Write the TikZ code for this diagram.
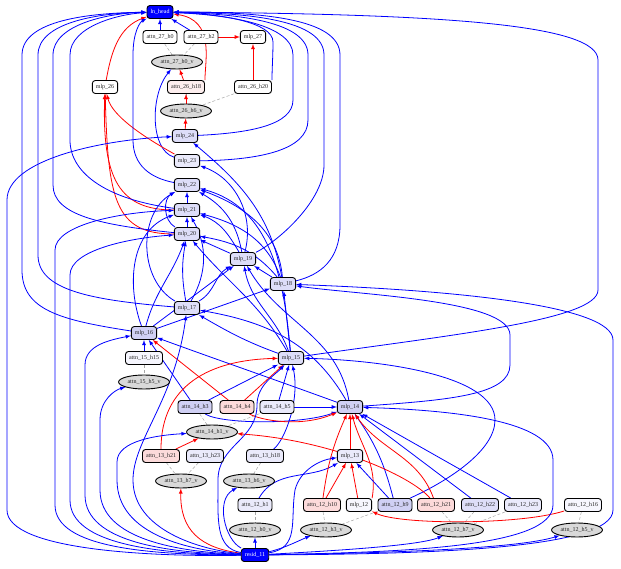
\documentclass[tikz,border=0pt]{standalone}
\usepackage{fontspec}
\setmainfont{Liberation Serif}
\usetikzlibrary{arrows,shapes.geometric}
\pgfdeclarelayer{background}
\pgfsetlayers{background,main}

\definecolor{lav1}{RGB}{208,208,244}
\definecolor{lav2}{RGB}{221,221,248}
\definecolor{lav3}{RGB}{234,234,251}
\definecolor{lav4}{RGB}{246,246,254}
\definecolor{pink1}{RGB}{252,218,218}
\definecolor{pink2}{RGB}{253,238,238}
\definecolor{vgray}{RGB}{217,217,217}

\begin{document}
\begin{tikzpicture}[x=1pt,y=1pt,>=latex,
  every node/.style={font=\fontsize{6}{7}\selectfont,text=black!85},
  box/.style={draw,rounded corners=3pt,line width=0.9pt,minimum height=13pt,inner xsep=3.5pt,inner ysep=1pt},
  ends/.style={box,fill=blue,text=white},
  vnode/.style={ellipse,draw,fill=vgray,line width=0.9pt,minimum height=14pt,inner xsep=1.5pt,inner ysep=0pt},
  bl/.style={->,blue,line width=0.8pt},
  rd/.style={->,red,line width=0.8pt},
  vl/.style={densely dashed,black!35,line width=0.5pt}]
\useasboundingbox (0,0) rectangle (621,-569);

% layer 27 and the head
\node[ends] (head) at (160,-12) {ln\_head};
\node[box,fill=white] (a27h0) at (160,-37) {attn\_27\_h0};
\node[box,fill=white] (a27h2) at (201,-37) {attn\_27\_h2};
\node[box,fill=white] (m27) at (253,-37) {mlp\_27};
\node[vnode] (v27h0) at (177,-62) {attn\_27\_h0\_v};

% layer 26
\node[box,fill=white] (m26) at (105,-87) {mlp\_26};
\node[box,fill=pink2] (a26h18) at (186,-87) {attn\_26\_h18};
\node[box,fill=white] (a26h20) at (253,-87) {attn\_26\_h20};
\node[vnode] (v26h6) at (186,-111) {attn\_26\_h6\_v};

% mlps 24 .. 15
\node[box,fill=lav2] (m24) at (185,-136) {mlp\_24};
\node[box,fill=lav3] (m23) at (187,-161) {mlp\_23};
\node[box,fill=lav2] (m22) at (187,-185) {mlp\_22};
\node[box,fill=lav2] (m21) at (187,-210) {mlp\_21};
\node[box,fill=lav2] (m20) at (187,-234) {mlp\_20};
\node[box,fill=lav2] (m19) at (243,-259) {mlp\_19};
\node[box,fill=lav2] (m18) at (283,-284) {mlp\_18};
\node[box,fill=lav2] (m17) at (187,-308) {mlp\_17};
\node[box,fill=lav1] (m16) at (144,-333) {mlp\_16};
\node[box,fill=lav4] (a15h15) at (144,-358) {attn\_15\_h15};
\node[vnode] (v15h5) at (144,-382) {attn\_15\_h5\_v};
\node[box,fill=lav2] (m15) at (291,-358) {mlp\_15};

% layer 14
\node[box,fill=lav1] (a14h3) at (195,-407) {attn\_14\_h3};
\node[box,fill=pink1] (a14h4) at (237,-407) {attn\_14\_h4};
\node[box,fill=lav3] (a14h5) at (277,-407) {attn\_14\_h5};
\node[box,fill=lav1] (m14) at (350,-407) {mlp\_14};
\node[vnode] (v14h1) at (212,-432) {attn\_14\_h1\_v};

% layer 13
\node[box,fill=pink1] (a13h21) at (161,-456) {attn\_13\_h21};
\node[box,fill=lav3] (a13h23) at (205,-456) {attn\_13\_h23};
\node[box,fill=lav3] (a13h18) at (265,-456) {attn\_13\_h18};
\node[box,fill=lav3] (m13) at (350,-456) {mlp\_13};
\node[vnode] (v13h7) at (181,-481) {attn\_13\_h7\_v};
\node[vnode] (v13h6) at (249,-481) {attn\_13\_h6\_v};

% layer 12
\node[box,fill=lav3] (a12h1) at (255,-505) {attn\_12\_h1};
\node[box,fill=pink1] (a12h10) at (322,-505) {attn\_12\_h10};
\node[box,fill=lav4] (m12) at (359,-505) {mlp\_12};
\node[box,fill=lav1] (a12h9) at (395,-505) {attn\_12\_h9};
\node[box,fill=pink1] (a12h21) at (436,-505) {attn\_12\_h21};
\node[box,fill=lav2] (a12h22) at (480,-505) {attn\_12\_h22};
\node[box,fill=lav3] (a12h23) at (523,-505) {attn\_12\_h23};
\node[box,fill=lav4] (a12h16) at (583,-505) {attn\_12\_h16};
\node[vnode] (v12h0) at (255,-530) {attn\_12\_h0\_v};
\node[vnode] (v12h3) at (326,-530) {attn\_12\_h3\_v};
\node[vnode] (v12h7) at (458,-530) {attn\_12\_h7\_v};
\node[vnode] (v12h5) at (577,-530) {attn\_12\_h5\_v};
\node[ends] (resid) at (255,-555) {resid\_11};

\begin{pgfonlayer}{background}
% heads and their value inputs
\draw[vl] (a27h0) -- (v27h0);
\draw[vl] (a27h2) -- (v27h0);
\draw[vl] (a26h18) -- (v26h6);
\draw[vl] (a26h20) -- (v26h6);
\draw[vl] (a15h15) -- (v15h5);
\draw[vl] (a14h3) -- (v14h1);
\draw[vl] (a14h5) -- (v14h1);
\draw[vl] (a13h21) -- (v13h7);
\draw[vl] (a13h23) -- (v13h7);
\draw[vl] (a13h18) -- (v13h6);
\draw[vl] (a12h1) -- (v12h0);
\draw[vl] (a12h10) -- (v12h3);
\draw[vl] (a12h9) -- (v12h3);
\draw[vl] (a12h21) -- (v12h7);
\draw[vl] (a12h22) -- (v12h7);
\draw[vl] (a12h23) -- (v12h7);
\draw[vl] (a12h16) -- (v12h5);

% top
\draw[bl] (a27h0) -- (head);
\draw[bl] (a27h2) -- (head);
\draw[rd] (a27h2) -- (m27);
\draw[rd] (a26h20) -- (m27);
\draw[rd] (a26h18) -- (v27h0);
\draw[rd] (v26h6) -- (a26h18);
\draw[rd] (m24) -- (v26h6);
\draw[rd] (m26) to[out=80,in=200] (head);
\draw[rd] (a26h18.north east) .. controls (205,-60) and (215,-20) .. (head);
\draw[bl] (a26h20.north east) .. controls (272,-70) and (273,-55) .. (273,-42) .. controls (273,-22) and (220,-14) .. (head);
\draw[bl] (m23) .. controls (150,-150) and (150,-95) .. (v27h0);
\draw[rd] (m23) .. controls (140,-135) and (112,-115) .. (m26);
\draw[rd] (m21) .. controls (120,-210) and (102,-180) .. (m26);
\draw[rd] (m20) .. controls (115,-234) and (108,-200) .. (m26);

% loops into the head
\draw[bl] (m16) .. controls (60,-320) and (22,-310) .. (22,-270) -- (22,-55) .. controls (22,-20) and (90,-13) .. (head);
\draw[bl] (m17) .. controls (90,-300) and (38,-290) .. (38,-255) -- (38,-55) .. controls (38,-22) and (100,-13) .. (head);
\draw[bl] (m20) .. controls (100,-225) and (53,-215) .. (53,-185) -- (53,-55) .. controls (53,-24) and (110,-13) .. (head);
\draw[bl] (m21) .. controls (110,-200) and (70,-175) .. (70,-140) -- (70,-55) .. controls (70,-26) and (120,-14) .. (head);
\draw[bl] (m22) .. controls (150,-178) and (133,-165) .. (133,-140) -- (133,-55) .. controls (133,-32) and (140,-22) .. (head);
\draw[bl] (m24) .. controls (250,-133) and (293,-125) .. (293,-100) -- (293,-55) .. controls (293,-25) and (230,-15) .. (head);
\draw[bl] (m23) .. controls (260,-160) and (308,-150) .. (308,-120) -- (308,-55) .. controls (308,-22) and (240,-14) .. (head);
\draw[bl] (m19) .. controls (280,-240) and (324,-200) .. (324,-165) -- (324,-55) .. controls (324,-20) and (250,-13) .. (head);
\draw[bl] (m18) .. controls (320,-275) and (340,-260) .. (340,-225) -- (340,-55) .. controls (340,-18) and (260,-12) .. (head);
\draw[bl] (m15) .. controls (450,-335) and (598,-320) .. (598,-290) -- (598,-60) .. controls (598,-25) and (450,-14) .. (head);

% mlp to mlp
\draw[bl] (m21) -- (m22);
\draw[bl] (m20) -- (m21);
\draw[bl] (m20) to[out=150,in=-150] (m22);
\draw[bl] (m19) -- (m20);
\draw[bl] (m19) to[out=120,in=-20] (m21);
\draw[bl] (m19) to[out=100,in=-30] (m22);
\draw[bl] (m19) to[out=75,in=-20] (m23);
\draw[bl] (m18) -- (m19);
\draw[bl] (m18) to[out=130,in=-10] (m20);
\draw[bl] (m18) to[out=110,in=-15] (m21);
\draw[bl] (m18) to[out=95,in=-20] (m22);
\draw[bl] (m18) to[out=100,in=-40] (m24);
\draw[bl] (m17) to[out=30,in=-150] (m19);
\draw[bl] (m17) to[out=100,in=-100] (m20);
\draw[bl] (m17) to[out=60,in=-60] (m21);
\draw[bl] (m17) to[out=150,in=-150] (m22);
\draw[bl] (m16) -- (m18);
\draw[bl] (m16) -- (m19);
\draw[bl] (m16) to[out=75,in=-110] (m20);
\draw[bl] (m16) to[out=110,in=-160] (m21);
\draw[bl] (m15) -- (m18);
\draw[bl] (m15) to[out=110,in=-80] (m19);
\draw[bl] (m15) to[out=120,in=-50] (m20);
\draw[bl] (m15) to[out=95,in=-15] (m22);
\draw[bl] (m15) to[out=160,in=-30] (m17);
\draw[bl] (m14) to[out=160,in=-20] (m16);
\draw[bl] (m14) to[out=120,in=-10] (m17);
\draw[bl] (m14) to[out=100,in=-60] (m19);
\draw[bl] (m14) .. controls (450,-400) and (510,-395) .. (510,-365) -- (510,-335) .. controls (510,-300) and (360,-295) .. (m18);

% layers 15 .. 12
\draw[bl] (a15h15) -- (m16);
\draw[bl] (a14h3) -- (m16);
\draw[bl] (a14h3) -- (m15);
\draw[bl] (a14h3) .. controls (220,-424) and (300,-425) .. (m14);
\draw[rd] (a14h4) -- (m16);
\draw[rd] (a14h4) -- (m15);
\draw[rd] (a14h4) .. controls (260,-420) and (300,-428) .. (m14);
\draw[bl] (a14h5) -- (m14);
\draw[bl] (a14h5) -- (m15);
\draw[rd] (a13h21) -- (v14h1);
\draw[rd] (a13h21) .. controls (161,-385) and (210,-360) .. (m15);
\draw[bl] (a13h18) .. controls (285,-440) and (300,-400) .. (m15);
\draw[bl] (a12h1) to[out=60,in=-150] (m13);
\draw[rd] (a12h10) -- (m13);
\draw[rd] (a12h10) to[bend left=8] (m14);
\draw[rd] (m12) -- (m13);
\draw[rd] (m12.north east) to[out=80,in=-75] (m14);
\draw[bl] (a12h9) -- (m13);
\draw[bl] (a12h9) to[bend right=10] (m14);
\draw[bl] (a12h9) .. controls (450,-480) and (495,-450) .. (495,-420) .. controls (495,-375) and (380,-360) .. (m15);
\draw[rd] (a12h21) to[out=110,in=-55] (m14);
\draw[rd] (a12h21) .. controls (410,-475) and (330,-440) .. (v14h1);
\draw[bl] (a12h22) -- (m14);
\draw[bl] (a12h23) -- (m14);
\draw[rd] (a12h16) .. controls (520,-525) and (400,-525) .. (m12);
\draw[rd] (m13) -- (m14);

% out of resid_11
\draw[bl] (resid) -- (v12h0);
\draw[bl] (resid) .. controls (285,-548) and (300,-540) .. (v12h3);
\draw[bl] (resid) .. controls (350,-550) and (420,-545) .. (v12h7);
\draw[bl] (resid) .. controls (400,-553) and (520,-548) .. (v12h5);
\draw[bl] (resid) .. controls (225,-540) and (215,-500) .. (v13h6);
\draw[rd] (resid) .. controls (200,-548) and (180,-530) .. (v13h7);
\draw[bl] (resid) .. controls (300,-548) and (290,-520) .. (295,-490) .. controls (300,-470) and (320,-460) .. (m13);
\draw[bl] (resid) .. controls (215,-548) and (218,-520) .. (218,-480) .. controls (218,-445) and (257,-440) .. (257,-405) .. controls (257,-385) and (275,-375) .. (m15);
\draw[bl] (resid) .. controls (200,-550) and (133,-530) .. (133,-480) .. controls (133,-440) and (175,-400) .. (m17);
\draw[bl] (resid) .. controls (150,-557) and (7,-550) .. (7,-510) -- (7,-200) .. controls (7,-160) and (100,-140) .. (m24);
\draw[bl] (resid) .. controls (150,-555) and (55,-548) .. (55,-505) -- (55,-250) .. controls (55,-225) and (120,-212) .. (m21);
\draw[bl] (resid) .. controls (160,-554) and (70,-545) .. (70,-500) -- (70,-275) .. controls (70,-250) and (130,-238) .. (m20);
\draw[bl] (resid) .. controls (170,-553) and (85,-543) .. (85,-495) -- (85,-365) .. controls (85,-345) and (110,-340) .. (m16);
\draw[bl] (resid) .. controls (180,-552) and (100,-540) .. (100,-490) -- (100,-420) .. controls (100,-400) and (115,-390) .. (v15h5);
\draw[bl] (resid) .. controls (190,-551) and (117,-535) .. (117,-480) -- (117,-462) .. controls (117,-440) and (160,-435) .. (v14h1);
\draw[bl] (resid) .. controls (400,-552) and (553,-548) .. (553,-505) -- (553,-460) .. controls (553,-420) and (450,-410) .. (m14);
\draw[bl] (resid) .. controls (420,-554) and (613,-550) .. (613,-510) -- (613,-340) .. controls (613,-305) and (450,-290) .. (m18);
\end{pgfonlayer}
\end{tikzpicture}
\end{document}
